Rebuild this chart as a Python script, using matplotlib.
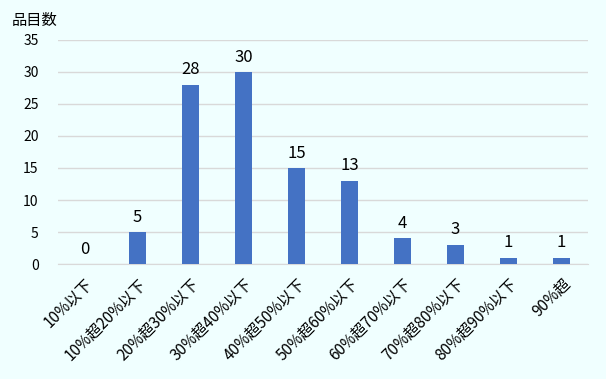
import matplotlib
matplotlib.use('Agg')
import matplotlib.pyplot as plt
import numpy as np

plt.rcParams['font.family'] = ['Noto Sans CJK JP', 'DejaVu Sans']

categories = ['10%以下', '10%超20%以下', '20%超30%以下', '30%超40%以下', '40%超50%以下',
              '50%超60%以下', '60%超70%以下', '70%超80%以下', '80%超90%以下', '90%超']
counts = [0, 5, 28, 30, 15, 13, 4, 3, 1, 1]
yticks = [0, 5, 10, 15, 20, 25, 30, 35]

bg = '#F0FFFF'
fig = plt.figure(figsize=(6.06, 3.79), dpi=100, facecolor=bg)
ax = fig.add_axes([0.0957, 0.3034, 0.8746, 0.5911], facecolor=bg)

x = np.arange(len(categories))
bars = ax.bar(x, counts, width=0.32, color='#4472C4', zorder=3)
for xi, v in zip(x, counts):
    ax.text(xi, v + 1.0, str(v), ha='center', va='bottom', fontsize=12, color='black')

ax.set_xlim(-0.5, len(categories) - 0.5)
ax.set_ylim(0, 35)
ax.set_yticks(yticks)
ax.yaxis.grid(True, color='#d9d9d9', linewidth=1, zorder=0)
ax.set_xticks(x)
ax.set_xticklabels(categories, rotation=45, ha='right', rotation_mode='anchor', fontsize=11)
ax.tick_params(axis='x', length=0, labelsize=11, pad=8)
ax.tick_params(axis='y', length=0, labelsize=10, pad=14)
for s in ['top', 'right', 'left']:
    ax.spines[s].set_visible(False)
ax.spines['bottom'].set_color('#d9d9d9')

fig.text(0.02, 0.945, '品目数', fontsize=11, ha='left', va='center')

fig.savefig('out.png', dpi=100, facecolor=bg)
